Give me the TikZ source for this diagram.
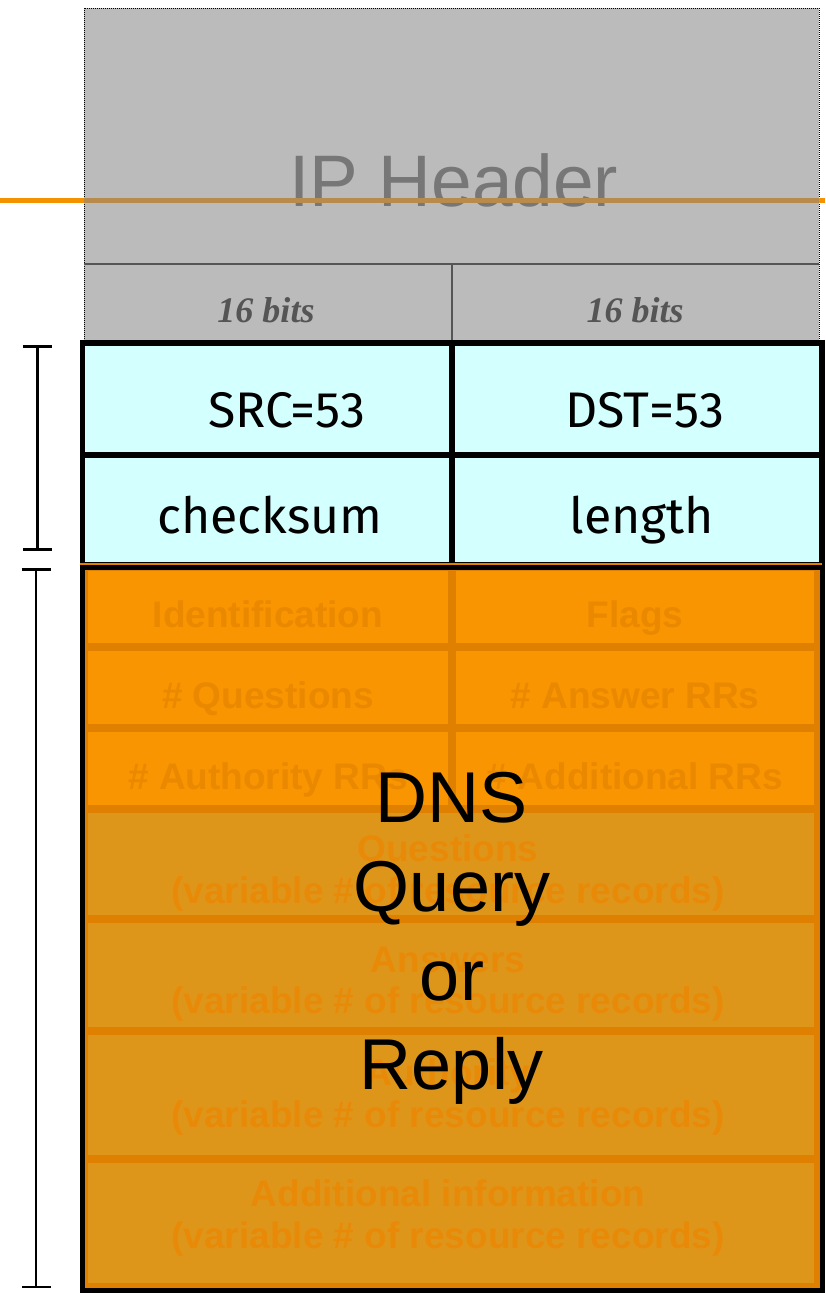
\documentclass[tikz,border=0pt]{standalone}
\usepackage{fontspec}
\setmainfont{Liberation Sans}
\newfontfamily\bitsfont{Liberation Serif}
\newfontfamily\handfont{Fira Sans}
\usetikzlibrary{arrows.meta}

\definecolor{ipgray}{RGB}{187,187,187}
\definecolor{iptext}{RGB}{119,119,119}
\definecolor{bitstext}{RGB}{85,85,85}
\definecolor{wireline}{RGB}{245,146,0}
\definecolor{wireongray}{RGB}{184,138,76}
\definecolor{udpcyan}{RGB}{212,255,255}
\definecolor{dnsfill}{RGB}{248,149,0}
\definecolor{dnsfilllow}{RGB}{222,150,26}
\definecolor{dnsband}{RGB}{224,128,0}
\definecolor{dnstext}{RGB}{234,136,0}
\definecolor{dnstextlow}{RGB}{232,138,8}

\begin{document}
\begin{tikzpicture}
		[x=1pt,y=-1pt,
		 udptxt/.style={anchor=base,font=\handfont\fontsize{50}{60}\selectfont},
		 bitstxt/.style={anchor=base,text=bitstext,font=\bitsfont\bfseries\itshape\fontsize{36}{40}\selectfont},
		 fieldbox/.style={fill=dnsfill,draw=dnsband,line width=8pt},
		 fieldtxt/.style={text=dnstext,align=center,font=\bfseries\fontsize{37}{41.5}\selectfont},
		 span/.style={line width=3pt,{Bar[width=29pt]}-{Bar[width=29pt]}}]
		\useasboundingbox (0,0) rectangle (825,1293);

		% IP header
		\draw[wireline,line width=5pt] (0,200) -- (84,200);
		\fill[ipgray] (84,8) rectangle (819,342);
		\draw[densely dotted,line width=1pt] (84,8) rectangle (819,342);
		\node[anchor=base,text=iptext,font=\fontsize{73}{80}\selectfont] (iphdr) at (454,206) {IP Header};
		\draw[wireongray,line width=5pt] (84,200) -- (819,200);
		\draw[wireline,line width=5pt] (819,200) -- (825,200);
		\draw[bitstext,line width=2pt] (84,264) -- (819,264) (452,264) -- (452,342);
		\node[bitstxt] (bitsl) at (266,322) {16 bits};
		\node[bitstxt] (bitsr) at (635,322) {16 bits};

		% UDP header
		\draw[fill=udpcyan,line width=5.5pt] (82.5,343) rectangle (822,565);
		\draw[line width=5.5pt] (82.5,455) -- (822,455) (452,343) -- (452,565);
		\node[udptxt] (srcport) at (287,427) {SRC=53};
		\node[udptxt] (dstport) at (645,427) {DST=53};
		\node[udptxt] (csum) at (270,533) {checksum};
		\node[udptxt] (len) at (642,533) {length};

		% DNS message
		\foreach \ya/\yb/\ltxt/\rtxt [count=\i] in {567/647/Identification/Flags,
				647/728/{\# Questions}/{\# Answer RRs},
				728/809/{\# Authority RRs}/{\# Additional RRs}} {
			\draw[fieldbox] (84,\ya) rectangle (452,\yb);
			\draw[fieldbox] (452,\ya) rectangle (818,\yb);
			\node[fieldtxt,anchor=base] (left\i) at (268,{\yb-20}) {\ltxt};
			\node[fieldtxt,anchor=base] (right\i) at (635,{\yb-20}) {\rtxt};
		}
		\foreach \ya/\yb/\ty/\sec/\txt in {809/919/873/qsec/Questions,
				919/1031/984/asec/Answers,
				1031/1159/1097/nsec/Authority,
				1159/1287/1218/xsec/Additional information} {
			\draw[fieldbox,fill=dnsfilllow] (84,\ya) rectangle (818,\yb);
			\node[fieldtxt,text=dnstextlow] (\sec) at (448,\ty) {\txt\\(variable \# of resource records)};
		}
		\draw[line width=5pt] (82,567) rectangle (822,1290);
		\node[align=center,font=\fontsize{72}{89}\selectfont] (msg) at (452,938) {DNS\\Query\\or\\Reply};

		% header / payload spans
		\coordinate (udptop) at (37,345);
		\coordinate (udpbot) at (37,551);
		\coordinate (dnstop) at (36,568);
		\coordinate (dnsbot) at (36,1288);
		\draw[span] (udptop) -- (udpbot);
		\draw[span,line width=2.5pt] (dnstop) -- (dnsbot);

	\end{tikzpicture}
\end{document}
